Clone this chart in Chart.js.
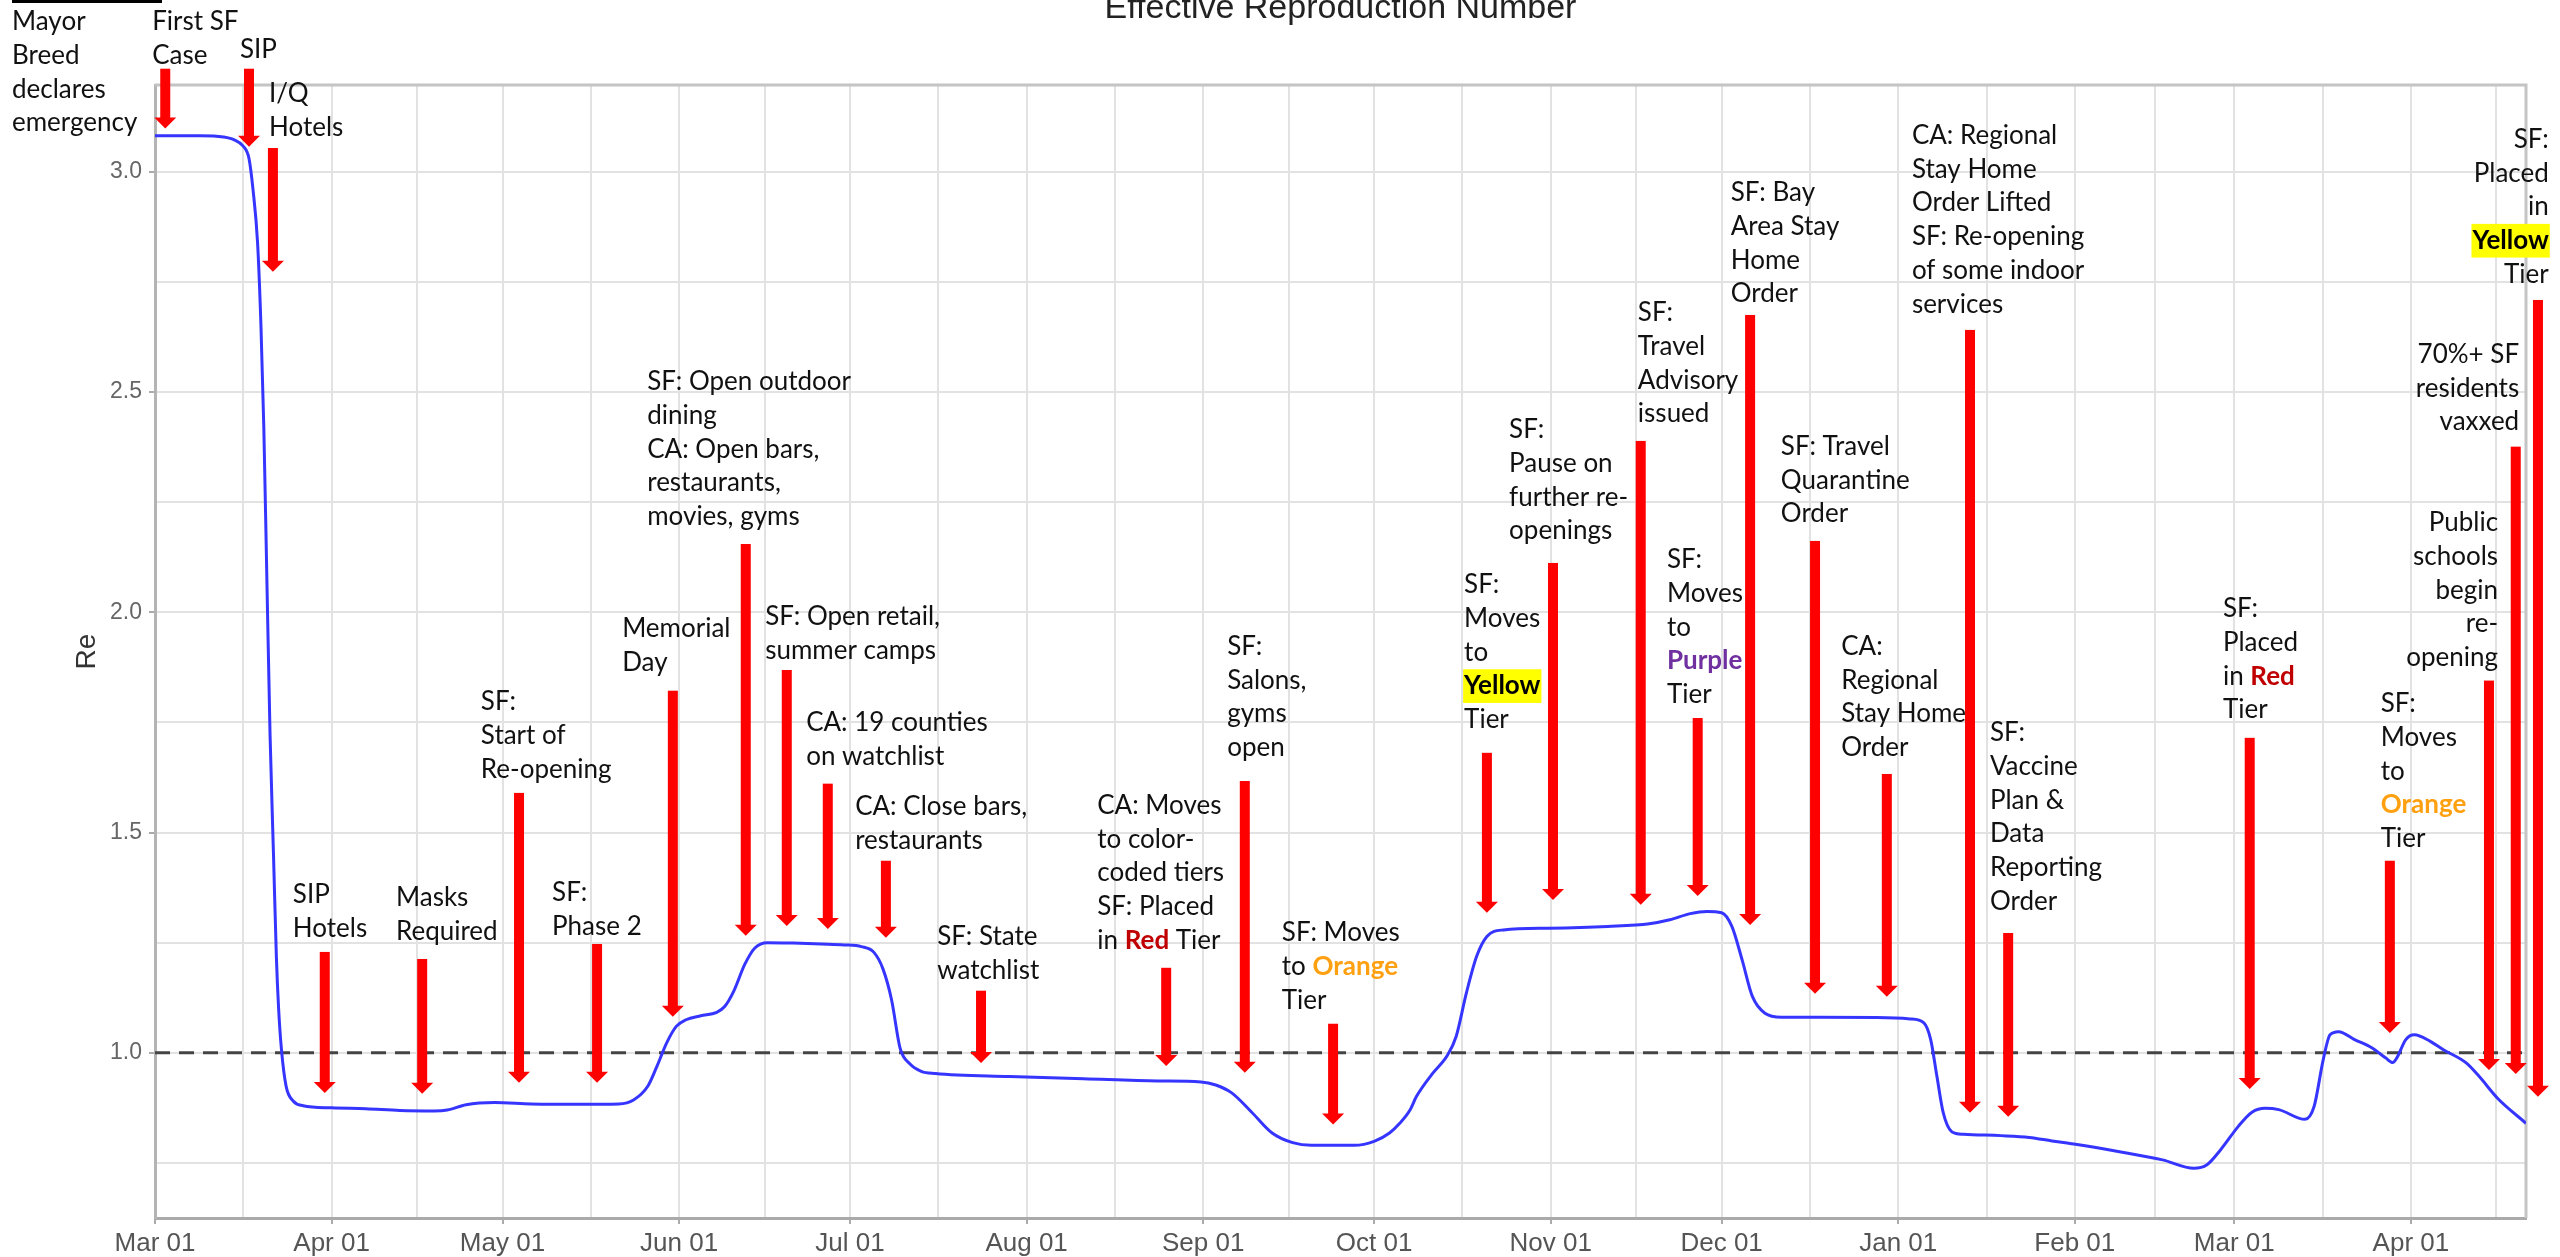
<!DOCTYPE html>
<html>
<head>
<meta charset="utf-8">
<title>Effective Reproduction Number</title>
<script src="https://cdn.jsdelivr.net/npm/chart.js@4.4.1/dist/chart.umd.min.js"></script>
<style>
  html, body { margin: 0; padding: 0; background: #fff; }
  canvas { display: block; }
</style>
</head>
<body>
<canvas id="re-chart" width="2560" height="1257"></canvas>
<script>
// day 0 = 2020-03-01
const monthDays = [0, 31, 61, 92, 122, 153, 184, 214, 245, 275, 306, 337, 365, 396, 426];
const monthLabels = ['Mar 01', 'Apr 01', 'May 01', 'Jun 01', 'Jul 01', 'Aug 01', 'Sep 01', 'Oct 01',
  'Nov 01', 'Dec 01', 'Jan 01', 'Feb 01', 'Mar 01', 'Apr 01', 'May 01'];
const yTicks = [0.75, 1.0, 1.25, 1.5, 1.75, 2.0, 2.25, 2.5, 2.75, 3.0];

const reDays = [0, 8, 12, 14, 15.5, 16.5, 17.2, 18, 18.6, 19.1, 19.6, 20.2, 20.8, 21.3, 21.7, 22.2, 23, 24.3, 26,
  31, 37, 43, 49, 51.3, 54.6, 59.6, 66, 75, 81.4, 84, 86.5, 88.1, 89.8, 91.5, 93.2, 95.8, 98.6, 100, 101.6,
  103.5, 105.3, 107.5, 112, 117, 121, 124, 126.2, 127.8, 129.3, 130.8, 132.5, 134.5, 137, 150, 163, 176,
  183.6, 186.2, 189, 192.6, 196.1, 199.7, 203, 210.5, 214, 216.7, 218.5, 220.3, 221.4, 224.2, 226.9, 228.4,
  230.2, 232, 233.8, 236.7, 244.7, 255, 262.3, 265.9, 269.5, 272.4, 275, 276.8, 278.6, 280.4, 282.6, 285.5,
  291.4, 302.3, 308.1, 310.5, 311.7, 312.8, 313.9, 315.4, 317.5, 324, 329, 333, 336.8, 344.6, 352.4, 357.9,
  360.2, 362.6, 365.7, 368.1, 370.4, 372.8, 377.4, 379, 380.6, 381.8, 383.3, 386.1, 389.2, 391.6, 392.8,
  393.5, 395.1, 396.6, 399.4, 401.7, 405.7, 408, 411.2, 416.2];
const reValues = [3.082, 3.082, 3.079, 3.072, 3.058, 3.03, 2.96, 2.84, 2.65, 2.42, 2.1, 1.72, 1.45, 1.22, 1.1,
  1.007, 0.925, 0.89, 0.88, 0.875, 0.873, 0.869, 0.868, 0.87, 0.882, 0.887, 0.884, 0.883, 0.884, 0.893,
  0.924, 0.969, 1.022, 1.06, 1.075, 1.084, 1.092, 1.105, 1.14, 1.2, 1.238, 1.25, 1.249, 1.247, 1.245,
  1.241, 1.228, 1.19, 1.12, 1.01, 0.975, 0.958, 0.953, 0.946, 0.941, 0.936, 0.934, 0.927, 0.909, 0.864,
  0.818, 0.796, 0.79, 0.79, 0.799, 0.818, 0.84, 0.87, 0.9, 0.952, 0.995, 1.037, 1.136, 1.219, 1.264,
  1.279, 1.283, 1.287, 1.293, 1.302, 1.316, 1.321, 1.318, 1.287, 1.211, 1.128, 1.09, 1.081, 1.081, 1.08,
  1.077, 1.068, 1.03, 0.946, 0.864, 0.821, 0.815, 0.812, 0.808, 0.8, 0.793, 0.776, 0.757, 0.738, 0.746,
  0.78, 0.833, 0.865, 0.874, 0.871, 0.849, 0.878, 0.984, 1.041, 1.048, 1.03, 1.011, 0.988, 0.978, 0.988,
  1.03, 1.041, 1.026, 1.007, 0.977, 0.946, 0.897, 0.84];

// events, *word* = coloured / highlighted word
const eventLabels = [
  ['Mayor', 'Breed', 'declares', 'emergency'],
  ['First SF', 'Case'],
  ['SIP'],
  ['I/Q', 'Hotels'],
  ['SIP', 'Hotels'],
  ['Masks', 'Required'],
  ['SF:', 'Start of', 'Re-opening'],
  ['SF:', 'Phase 2'],
  ['Memorial', 'Day'],
  ['SF: Open outdoor', 'dining', 'CA: Open bars,', 'restaurants,', 'movies, gyms'],
  ['SF: Open retail,', 'summer camps'],
  ['CA: 19 counties', 'on watchlist'],
  ['CA: Close bars,', 'restaurants'],
  ['SF: State', 'watchlist'],
  ['CA: Moves', 'to color-', 'coded tiers', 'SF: Placed', 'in *Red* Tier'],
  ['SF:', 'Salons,', 'gyms', 'open'],
  ['SF: Moves', 'to *Orange*', 'Tier'],
  ['SF:', 'Moves', 'to', '*Yellow*', 'Tier'],
  ['SF:', 'Pause on', 'further re-', 'openings'],
  ['SF:', 'Travel', 'Advisory', 'issued'],
  ['SF:', 'Moves', 'to', '*Purple*', 'Tier'],
  ['SF: Bay', 'Area Stay', 'Home', 'Order'],
  ['SF: Travel', 'Quarantine', 'Order'],
  ['CA:', 'Regional', 'Stay Home', 'Order'],
  ['CA: Regional', 'Stay Home', 'Order Lifted', 'SF: Re-opening', 'of some indoor', 'services'],
  ['SF:', 'Vaccine', 'Plan &', 'Data', 'Reporting', 'Order'],
  ['SF:', 'Placed', 'in *Red*', 'Tier'],
  ['SF:', 'Moves', 'to', '*Orange*', 'Tier'],
  ['Public', 'schools', 'begin', 're-', 'opening'],
  ['70%+ SF', 'residents', 'vaxxed'],
  ['SF:', 'Placed', 'in', '*Yellow*', 'Tier']
];
// arrow: day, Re at tail, Re at tip
const arrowDays = [null, 1.8, 16.5, 20.7, 29.8, 46.9, 63.9, 77.6, 90.9, 103.7, 110.9, 118.1, 128.3, 145,
  177.5, 191.3, 206.8, 233.8, 245.4, 260.8, 270.8, 280, 291.4, 304, 318.6, 325.3, 367.7, 392.3, 409.7,
  414.4, 418.3];
const arrowFrom = [null, 3.234, 3.234, 3.054, 1.229, 1.213, 1.59, 1.247, 1.822, 2.155, 1.869, 1.611, 1.436,
  1.141, 1.193, 1.617, 1.066, 1.681, 2.112, 2.389, 1.76, 2.675, 2.162, 1.633, 2.641, 1.272, 1.715, 1.436,
  1.845, 2.376, 2.709];
const arrowTo = [null, 3.098, 3.057, 2.773, 0.909, 0.907, 0.932, 0.932, 1.082, 1.266, 1.288, 1.281, 1.261,
  0.977, 0.97, 0.955, 0.837, 1.318, 1.347, 1.336, 1.356, 1.29, 1.134, 1.127, 0.864, 0.855, 0.918, 1.045,
  0.961, 0.952, 0.9];
// label anchor: day of text edge, Re of first line
const labelDays = [-25.1, -0.5, 14.9, 20.0, 24.2, 42.3, 57.2, 69.7, 82, 86.4, 107.1, 114.3, 122.9, 137.3,
  165.4, 188.2, 197.8, 229.8, 237.7, 260.3, 265.4, 276.6, 285.4, 296, 308.4, 322.1, 363, 390.7, 411.3,
  415, 420.2];
const labelRe = [3.3405, 3.3405, 3.277, 3.177, 1.359, 1.352, 1.797, 1.363, 1.963, 2.523, 1.99, 1.749, 1.558,
  1.263, 1.561, 1.922, 1.272, 2.062, 2.414, 2.68, 2.119, 2.952, 2.376, 1.922, 3.082, 1.726, 2.008, 1.792,
  2.203, 2.585, 3.073];
const rightAligned = [28, 29, 30];

const wordStyle = {
  Red: { color: '#c00000' },
  Orange: { color: '#ffa010' },
  Purple: { color: '#7030a0' },
  Yellow: { color: '#000000', fill: '#ffff00' }
};

const LINE_GAP = 33.7;
const NOTE_FONT = "26px Lato, 'Open Sans', sans-serif";
const NOTE_BOLD = "bold 26px Lato, 'Open Sans', sans-serif";
const majorSet = new Set(monthDays);

function drawRichLine(ctx, line, x, y, alignRight) {
  const parts = line.split('*');
  const widths = parts.map((p, i) => {
    ctx.font = i % 2 ? NOTE_BOLD : NOTE_FONT;
    return ctx.measureText(p).width;
  });
  const total = widths.reduce((a, b) => a + b, 0);
  let cx = alignRight ? x - total : x;
  parts.forEach((p, i) => {
    const st = i % 2 ? wordStyle[p] : null;
    ctx.font = st ? NOTE_BOLD : NOTE_FONT;
    if (st && st.fill) {
      ctx.fillStyle = st.fill;
      ctx.fillRect(cx - 1, y - LINE_GAP / 2, widths[i] + 2, LINE_GAP);
    }
    ctx.fillStyle = st ? st.color : '#111';
    ctx.fillText(p, cx, y);
    cx += widths[i];
  });
}

const overlay = {
  id: 'overlay',
  beforeDatasetsDraw(chart) {
    // frame on top and right
    const { ctx, chartArea: a } = chart;
    ctx.save();
    ctx.strokeStyle = '#c4c4c4';
    ctx.lineWidth = 3;
    ctx.beginPath();
    ctx.moveTo(a.left, a.top);
    ctx.lineTo(a.right, a.top);
    ctx.lineTo(a.right, a.bottom);
    ctx.stroke();
    ctx.restore();
  },
  afterDatasetsDraw(chart) {
    const { ctx, scales: { x, y } } = chart;
    ctx.save();
    // arrows
    ctx.fillStyle = '#ff0000';
    arrowDays.forEach((d, i) => {
      if (d === null) return;
      const px = x.getPixelForValue(d);
      const top = y.getPixelForValue(arrowFrom[i]);
      const tip = y.getPixelForValue(arrowTo[i]);
      const headH = 11, headW = 22, shaft = 10;
      ctx.fillRect(px - shaft / 2, top, shaft, tip - headH - top + 0.5);
      ctx.beginPath();
      ctx.moveTo(px - headW / 2, tip - headH);
      ctx.lineTo(px + headW / 2, tip - headH);
      ctx.lineTo(px, tip);
      ctx.closePath();
      ctx.fill();
    });
    // labels
    ctx.textBaseline = 'middle';
    ctx.textAlign = 'left';
    eventLabels.forEach((lines, i) => {
      const px = x.getPixelForValue(labelDays[i]);
      const py = y.getPixelForValue(labelRe[i]);
      const right = rightAligned.includes(i);
      lines.forEach((line, j) => drawRichLine(ctx, line, px, py + j * LINE_GAP, right));
    });
    // stray rule at the top left of the source picture
    ctx.fillStyle = '#000';
    ctx.fillRect(x.getPixelForValue(labelDays[0]), 0, 150, 3);
    ctx.restore();
  },
  afterDraw(chart) {
    const { ctx, chartArea: a } = chart;
    ctx.save();
    ctx.font = "34px 'Liberation Sans', Arial, sans-serif";
    ctx.fillStyle = '#222';
    ctx.textAlign = 'center';
    ctx.textBaseline = 'alphabetic';
    ctx.fillText('Effective Reproduction Number', (a.left + a.right) / 2, 18);
    ctx.restore();
  }
};

new Chart(document.getElementById('re-chart'), {
  type: 'line',
  data: {
    datasets: [
      {
        label: 'Re',
        data: reDays.map((d, i) => ({ x: d, y: reValues[i] })),
        borderColor: '#3535ff',
        borderWidth: 3,
        pointRadius: 0,
        cubicInterpolationMode: 'monotone',
        fill: false,
        order: 1
      },
      {
        label: 'Re = 1',
        data: [{ x: 0, y: 1 }, { x: 416.2, y: 1 }],
        borderColor: '#444',
        borderWidth: 3,
        borderDash: [15, 9],
        pointRadius: 0,
        fill: false,
        order: 2
      }
    ]
  },
  options: {
    responsive: false,
    animation: false,
    layout: { padding: { top: 85, right: 34, bottom: 0, left: 0 } },
    plugins: { legend: { display: false }, tooltip: { enabled: false } },
    scales: {
      x: {
        type: 'linear',
        min: 0,
        max: 416.2,
        afterFit: (s) => { s.height = 39; },
        afterBuildTicks: (s) => {
          const t = [];
          for (let i = 0; i < monthDays.length - 1; i++) {
            t.push({ value: monthDays[i] });
            t.push({ value: (monthDays[i] + monthDays[i + 1]) / 2 });
          }
          s.ticks = t.filter(k => k.value <= 416.2);
        },
        grid: {
          color: '#e2e2e2',
          lineWidth: 2,
          tickLength: 6,
          tickColor: (c) => (c.tick && majorSet.has(c.tick.value)) ? '#aaa' : 'rgba(0,0,0,0)'
        },
        border: { color: '#aaa', width: 3 },
        ticks: {
          autoSkip: false,
          maxRotation: 0,
          minRotation: 0,
          padding: 4,
          color: '#555',
          font: { family: "'Liberation Sans', Arial, sans-serif", size: 26 },
          callback: (v) => {
            const k = monthDays.indexOf(v);
            return k >= 0 ? monthLabels[k] : '';
          }
        }
      },
      y: {
        type: 'linear',
        min: 0.625,
        max: 3.197,
        afterFit: (s) => { s.width = 155; },
        afterBuildTicks: (s) => { s.ticks = yTicks.map(v => ({ value: v })); },
        grid: {
          color: '#e2e2e2',
          lineWidth: 2,
          tickLength: 6,
          tickColor: (c) => (c.tick && c.tick.value % 0.5 === 0) ? '#aaa' : 'rgba(0,0,0,0)'
        },
        border: { color: '#b4b4b4', width: 3 },
        title: {
          display: true,
          text: 'Re',
          color: '#333',
          font: { family: "'Liberation Sans', Arial, sans-serif", size: 28 },
          padding: { top: 70, bottom: 0 }
        },
        ticks: {
          padding: 7,
          color: '#666',
          font: { family: "'Liberation Sans', Arial, sans-serif", size: 23 },
          callback: (v) => (v % 0.5 === 0 ? v.toFixed(1) : '')
        }
      }
    }
  },
  plugins: [overlay]
});
</script>
</body>
</html>
